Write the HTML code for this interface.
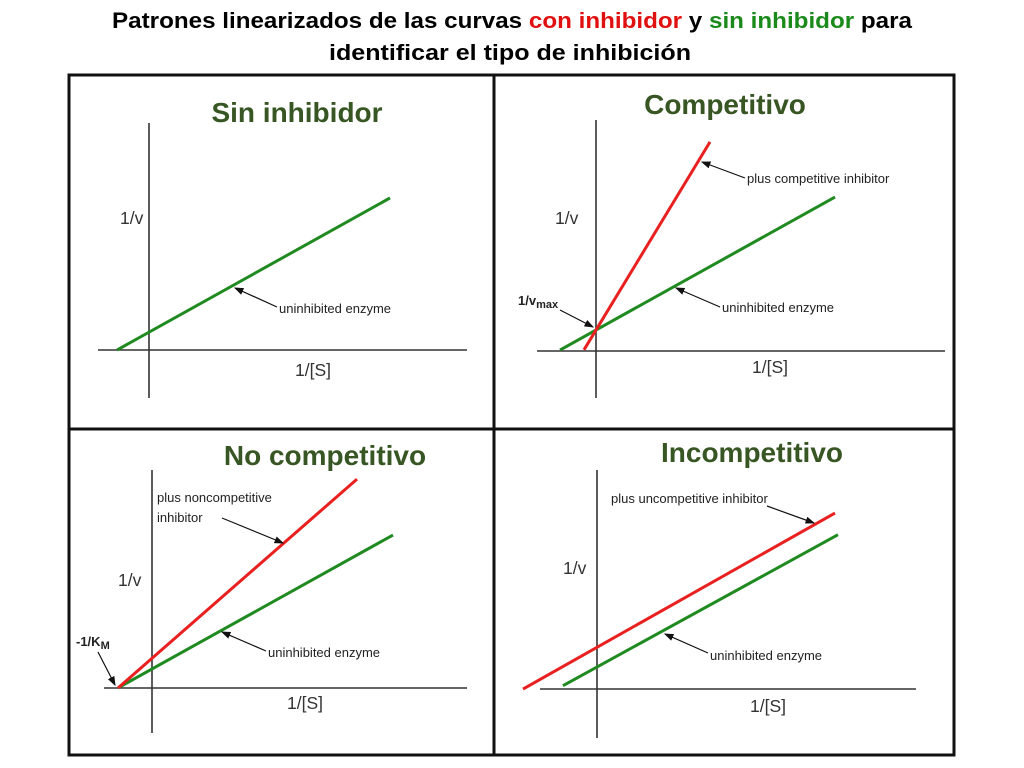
<!DOCTYPE html>
<html><head><meta charset="utf-8"><style>
html,body{margin:0;padding:0;background:#fff;}
svg{display:block;font-family:"Liberation Sans",sans-serif;}
.t{font-weight:bold;fill:#375623;font-size:28px;}
.lab{font-size:13px;fill:#222;}
.ax{font-size:17.5px;fill:#333;}
</style></head><body>
<svg id="chart" width="1024" height="768" viewBox="0 0 1024 768">
<defs><marker id="ah" markerWidth="8" markerHeight="6" refX="7" refY="3" orient="auto"><path d="M0,0 L8,3 L0,6 z" fill="#111"/></marker></defs>
<text x="512" y="28" text-anchor="middle" font-size="22" font-weight="bold" textLength="800" lengthAdjust="spacingAndGlyphs">Patrones linearizados de las curvas <tspan fill="#e01010">con inhibidor</tspan> y <tspan fill="#1a8a1a">sin inhibidor</tspan> para</text>
<text x="510" y="60" text-anchor="middle" font-size="22" font-weight="bold" textLength="362" lengthAdjust="spacingAndGlyphs">identificar el tipo de inhibición</text>
<rect x="69" y="75" width="885" height="680" fill="none" stroke="#111" stroke-width="3"/>
<line x1="494" y1="75" x2="494" y2="755" stroke="#111" stroke-width="3"/>
<line x1="69" y1="429" x2="954" y2="429" stroke="#111" stroke-width="3"/>
<g id="marks"></g>
</svg>
<script>
// Panel data (unit = 100px)
const panelNames = ["sin-inhibidor","competitivo","no-competitivo","incompetitivo"];
const panelTitles = ["Sin inhibidor","Competitivo","No competitivo","Incompetitivo"];
const greenSlopes = [0.557, 0.556, 0.556, 0.549];
const greenIntercepts = [0.178, 0.21, 0.19, 0.22];
const greenXStart = [-0.32, -0.36, -0.34, -0.34];
const greenXEnd = [2.41, 2.39, 2.41, 2.41];
const redSlopes = [null, 1.65, 0.874, 0.564];
const redIntercepts = [null, 0.21, 0.297, 0.417];
const redXStart = [null, -0.12, -0.34, -0.74];
const redXEnd = [null, 1.14, 2.05, 2.38];

const layout = [
 {ox:149,oy:350,yt:123,yb:398,xl:98,xr:467,tx:297,ty:122,vx:120,vy:224,sx:295,sy:376},
 {ox:596,oy:351,yt:120,yb:398,xl:537,xr:945,tx:725,ty:114,vx:555,vy:224,sx:752,sy:373},
 {ox:152,oy:688,yt:470,yb:733,xl:104,xr:467,tx:325,ty:465,vx:118,vy:586,sx:287,sy:709},
 {ox:597,oy:689,yt:470,yb:738,xl:540,xr:916,tx:752,ty:462,vx:563,vy:574,sx:750,sy:712}
];
const S=100;
const g=document.getElementById('marks');
const NS='http://www.w3.org/2000/svg';
function mk(tag,attrs,parent){const e=document.createElementNS(NS,tag);for(const k in attrs)e.setAttribute(k,attrs[k]);(parent||g).appendChild(e);return e;}
function px(p,x){return layout[p].ox+x*S;}
function py(p,y){return layout[p].oy-y*S;}
function addText(x,y,txt,cls,name,extra){const t=mk('text',Object.assign({x:x,y:y,class:cls},extra||{}));t.textContent=txt;


return t;}
function arrow(x1,y1,x2,y2,name){const l=mk('line',{x1:x1,y1:y1,x2:x2,y2:y2,stroke:'#111','stroke-width':1.2,'marker-end':'url(#ah)'});

}
for(let p=0;p<4;p++){
 const L=layout[p];
 addText(L.tx,L.ty,panelTitles[p],'t',panelNames[p]+'-title',{'text-anchor':'middle'});
 const ya=mk('line',{x1:L.ox,y1:L.yt,x2:L.ox,y2:L.yb,stroke:'#333','stroke-width':1.6});
 
 
 const xa=mk('line',{x1:L.xl,y1:L.oy,x2:L.xr,y2:L.oy,stroke:'#333','stroke-width':1.6});
 
 
 addText(L.vx,L.vy,'1/v','ax',panelNames[p]+'-y-axis-title');
 addText(L.sx,L.sy,'1/[S]','ax',panelNames[p]+'-x-axis-title');
 const gl=mk('line',{x1:px(p,greenXStart[p]),y1:py(p,greenIntercepts[p]+greenSlopes[p]*greenXStart[p]),x2:px(p,greenXEnd[p]),y2:py(p,greenIntercepts[p]+greenSlopes[p]*greenXEnd[p]),stroke:'#1f8a1f','stroke-width':3});
 
 
 if(redSlopes[p]!==null){
  const rl=mk('line',{x1:px(p,redXStart[p]),y1:py(p,redIntercepts[p]+redSlopes[p]*redXStart[p]),x2:px(p,redXEnd[p]),y2:py(p,redIntercepts[p]+redSlopes[p]*redXEnd[p]),stroke:'#e82020','stroke-width':3});
  
  
 }
}
// annotations
addText(279,313,'uninhibited enzyme','lab','p1-uninhibited-label');
arrow(277,307,235,288,'p1-uninhibited-arrow');
addText(747,183,'plus competitive inhibitor','lab','p2-inhibitor-label');
arrow(745,178,702,162,'p2-inhibitor-arrow');
addText(722,312,'uninhibited enzyme','lab','p2-uninhibited-label');
arrow(720,307,676,288,'p2-uninhibited-arrow');
const vm=addText(518,305,'1/v','lab','p2-vmax-label',{'font-size':20,'font-weight':'bold'});
const sub=mk('tspan',{'font-size':11,dy:3},vm);sub.textContent='max';
arrow(560,310,593,327,'p2-vmax-arrow');
addText(157,502,'plus noncompetitive','lab','p3-inhibitor-label');
addText(157,522,'inhibitor','lab','p3-inhibitor-label-2');
arrow(222,518,283,543,'p3-inhibitor-arrow');
addText(268,657,'uninhibited enzyme','lab','p3-uninhibited-label');
arrow(266,651,222,632,'p3-uninhibited-arrow');
const km=addText(76,646,'-1/K','lab','p3-km-label',{'font-size':20,'font-weight':'bold'});
const ks=mk('tspan',{'font-size':11,dy:3},km);ks.textContent='M';
arrow(98,652,115,685,'p3-km-arrow');
addText(611,503,'plus uncompetitive inhibitor','lab','p4-inhibitor-label');
arrow(767,506,814,523,'p4-inhibitor-arrow');
addText(710,660,'uninhibited enzyme','lab','p4-uninhibited-label');
arrow(708,653,665,634,'p4-uninhibited-arrow');
</script>
</body></html>
